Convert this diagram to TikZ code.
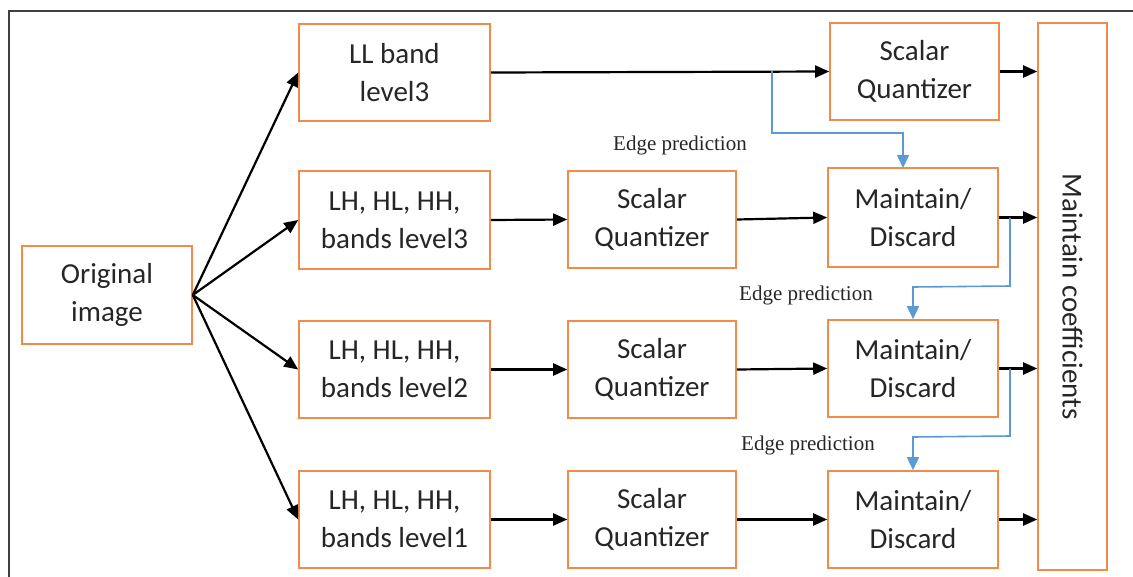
\documentclass[tikz,border=0pt]{standalone}
\usepackage{fontspec}
\setmainfont{Carlito}
\newfontfamily\edgefont{Liberation Serif}
\usetikzlibrary{arrows.meta}
\definecolor{boxorange}{RGB}{240,140,75}
\definecolor{predblue}{RGB}{91,155,213}
\begin{document}
\begin{tikzpicture}[x=1pt,y=-1pt,
  blk/.style={draw=boxorange,line width=1.6pt,minimum width=#1,inner sep=0pt,align=center,font=\fontsize{29}{38}\selectfont,text=black!85},
  blk/.default=170pt,
  arr/.style={line width=2.2pt,-{Triangle[length=14pt,width=12pt]}},
  barr/.style={draw=predblue,line width=1.6pt,-{Triangle[length=13pt,width=12pt]}},
  elab/.style={font=\edgefont\fontsize{21}{24}\selectfont,text=black!85}]
\useasboundingbox (0,0) rectangle (1133,576);
\draw[line width=2pt,black!75] (9,590) -- (9,11) -- (1140,11);
% nodes
\node[blk=170pt,minimum height=98pt] (orig) at (107,295) {Original\\image};
\node[blk=191pt,minimum height=97pt] (ll) at (394.5,72.5) {LL band\\level3};
\node[blk=191pt,minimum height=98pt] (b3) at (394.5,220) {LH, HL, HH,\\bands level3};
\node[blk=191pt,minimum height=97pt] (b2) at (394.5,369.5) {LH, HL, HH,\\bands level2};
\node[blk=191pt,minimum height=97pt] (b1) at (394.5,519.5) {LH, HL, HH,\\bands level1};
\node[blk=168pt,minimum height=97pt] (q3) at (652,219.5) {Scalar\\Quantizer};
\node[blk=168pt,minimum height=97pt] (q2) at (652,369.5) {Scalar\\Quantizer};
\node[blk=168pt,minimum height=97pt] (q1) at (652,519.5) {Scalar\\Quantizer};
\node[blk=169pt,minimum height=97pt] (qt) at (914.5,71.5) {Scalar\\Quantizer};
\node[blk=170pt,minimum height=99pt] (m3) at (913,217.5) {Maintain/\\Discard};
\node[blk=170pt,minimum height=97pt] (m2) at (913,368.5) {Maintain/\\Discard};
\node[blk=170pt,minimum height=97pt] (m1) at (913,519.5) {Maintain/\\Discard};
\node[blk=69pt,minimum height=547pt] (mc) at (1072.5,296.5) {};
\node[rotate=-90,font=\fontsize{29}{32}\selectfont,text=black!85] (mct) at (mc.center) {Maintain coefficients};
% arrows from original
\draw[arr] (orig.east) -- (ll.west);
\draw[arr] (orig.east) -- (b3.west);
\draw[arr] (orig.east) -- (b2.west);
\draw[arr] (orig.east) -- (b1.west);
% rows
\draw[arr] (ll.east) -- (qt.west);
\draw[arr] (b3.east) -- (q3.west);
\draw[arr] (b2.east) -- (q2.west);
\draw[arr] (b1.east) -- (q1.west);
\draw[arr] (q3.east) -- (m3.west);
\draw[arr] (q2.east) -- (m2.west);
\draw[arr] (q1.east) -- (m1.west);
\draw[arr] (qt.east) -- (qt.east -| mc.west);
\draw[arr] (m3.east) -- (m3.east -| mc.west);
\draw[arr] (m2.east) -- (m2.east -| mc.west);
\draw[arr] (m1.east) -- (m1.east -| mc.west);
% edge prediction (blue)
\coordinate (t0) at (772,71);
\coordinate (t1) at (1010,217.5);
\coordinate (t2) at (1010,368.5);
\draw[barr] (t0) -- (772,133) -- (903,133) -- (903,168);
\draw[barr] (t1) -- (1010,286) -- (913,287) -- (m2.north);
\draw[barr] (t2) -- (1010,436) -- (913,437) -- (m1.north);
\node[elab] (e3) at (680,145) {Edge prediction};
\node[elab] (e2) at (806,295) {Edge prediction};
\node[elab] (e1) at (808,445) {Edge prediction};
\end{tikzpicture}
\end{document}
